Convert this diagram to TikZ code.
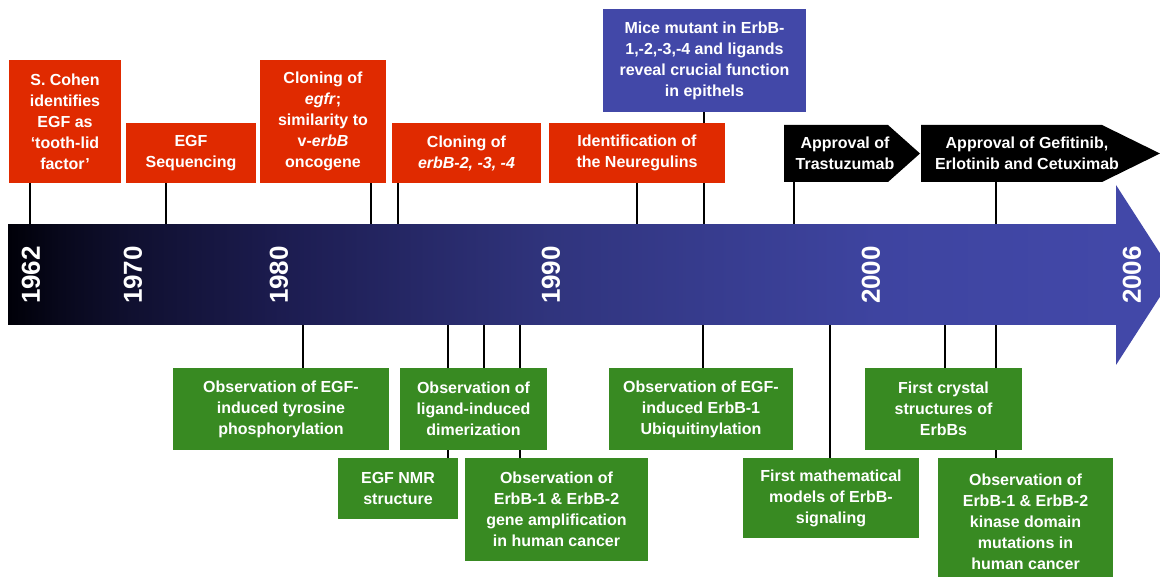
\documentclass[tikz,border=0pt]{standalone}
\usepackage{fontspec}
\setmainfont{Liberation Sans}
\usetikzlibrary{backgrounds}
\definecolor{evred}{RGB}{224,42,0}
\definecolor{evgreen}{RGB}{56,138,34}
\definecolor{evblue}{RGB}{66,72,168}
\definecolor{barA}{RGB}{0,0,8}
\definecolor{barB}{RGB}{8,8,28}
\definecolor{barC}{RGB}{16,16,48}
\definecolor{barD}{RGB}{28,28,80}
\definecolor{barE}{RGB}{48,52,125}
\definecolor{barF}{RGB}{62,68,160}
\pgfdeclarehorizontalshading{barshade}{100bp}{color(0bp)=(barA); color(25bp)=(barA);
  color(27.4bp)=(barB); color(30.6bp)=(barC); color(37.4bp)=(barD); color(49.4bp)=(barE);
  color(64.2bp)=(barF); color(75bp)=(evblue); color(100bp)=(evblue)}
\tikzset{
  evbox/.style={inner sep=0pt, align=center, text=white, font=\bfseries\fontsize{16}{21}\selectfont},
  boxsize/.style 2 args={minimum width=#1, minimum height=#2},
  redbox/.style={evbox, fill=evred},
  greenbox/.style={evbox, fill=evgreen},
  bluebox/.style={evbox, fill=evblue},
  yearlbl/.style={rotate=90, inner sep=0pt, text=white, font=\bfseries\fontsize{26}{26}\selectfont},
  evline/.style={line width=2.6pt, black}
}
\begin{document}
\begin{tikzpicture}[x=1pt, y=-1pt]
  \useasboundingbox (0,0) rectangle (1160,577);
  \clip (0,0) rectangle (1160,577);
  % barra do tempo
  \node[shading=barshade, inner sep=0pt, minimum width=1109, minimum height=100] (bar) at (562.5,275) {};
  \fill[evblue] (1116,185) -- (1174,275) -- (1116,365) -- cycle;
  \foreach \y/\x in {1962/31,1970/133,1980/279,1990/551,2000/871,2006/1132}
    \node[yearlbl] (y\y) at (\x,275) {\y};
  % eventos de cima
  \node[redbox, boxsize={112}{123}] (cohen) at (65,121.5) {S. Cohen\\identifies\\EGF as\\‘tooth-lid\\factor’};
  \node[redbox, boxsize={130}{60}] (egfseq) at (191,153) {EGF\\Sequencing};
  \node[redbox, boxsize={126}{123}] (egfr) at (323,121.5) {Cloning of\\\textit{egfr};\\similarity to\\v-\textit{erbB}\\oncogene};
  \node[redbox, boxsize={149}{60}] (erbb) at (466.5,153) {Cloning of\\\textit{erbB-2, -3, -4}};
  \node[redbox, boxsize={176}{60}] (nrg) at (637,153) {Identification of\\the Neuregulins};
  \node[bluebox, boxsize={203}{103}] (mice) at (704.5,60.5) {Mice mutant in ErbB-\\1,-2,-3,-4 and ligands\\reveal crucial function\\in epithels};
  \fill (784,125) -- (888,125) -- (920,153.5) -- (888,182) -- (784,182) -- cycle;
  \node[evbox, minimum height=57] (trast) at (845,153.5) {Approval of\\Trastuzumab};
  \fill (921,125) -- (1102,125) -- (1160,153.5) -- (1102,182) -- (921,182) -- cycle;
  \node[evbox, minimum height=57] (gefit) at (1027,153.5) {Approval of Gefitinib,\\Erlotinib and Cetuximab};
  % eventos de baixo
  \node[greenbox, boxsize={216}{82}] (tyro) at (281,409) {Observation of EGF-\\induced tyrosine\\phosphorylation};
  \node[greenbox, boxsize={147}{82}] (dimer) at (473.5,409) {Observation of\\ligand-induced\\dimerization};
  \node[greenbox, boxsize={120}{61}] (nmr) at (398,488.5) {EGF NMR\\structure};
  \node[greenbox, boxsize={183}{103}] (amplif) at (556.5,509.5) {Observation of\\ErbB-1 \& ErbB-2\\gene amplification\\in human cancer};
  \node[greenbox, boxsize={184}{82}] (ubiq) at (701,409) {Observation of EGF-\\induced ErbB-1\\Ubiquitinylation};
  \node[greenbox, boxsize={176}{80}] (mathmod) at (831,498) {First mathematical\\models of ErbB-\\signaling};
  \node[greenbox, boxsize={157}{82}] (crystal) at (943.5,409) {First crystal\\structures of\\ErbBs};
  \node[greenbox, boxsize={175}{128}] (kinase) at (1025.5,522) {Observation of\\ErbB-1 \& ErbB-2\\kinase domain\\mutations in\\human cancer};
  % ligacoes
  \begin{pgfonlayer}{background}
    \foreach \n/\x in {cohen/30,egfseq/166,egfr/371,erbb/398,nrg/637,mice/704,trast/794,gefit/996}
      \draw[evline] (\n.south -| \x,0) -- (bar.north -| \x,0);
    \foreach \n/\x in {tyro/303,nmr/448,dimer/484,amplif/520,ubiq/703,mathmod/830,crystal/945,kinase/996}
      \draw[evline] (bar.south -| \x,0) -- (\n.north -| \x,0);
  \end{pgfonlayer}
\end{tikzpicture}
\end{document}
